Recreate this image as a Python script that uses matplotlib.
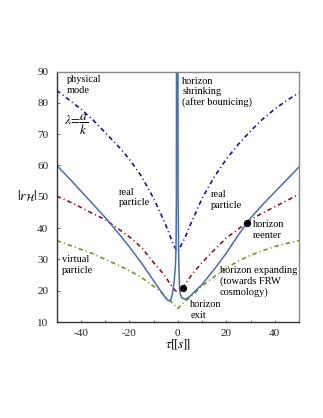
import matplotlib
matplotlib.use("Agg")
import matplotlib.pyplot as plt
from matplotlib.ticker import MultipleLocator

plt.rcParams['font.family'] = ['Liberation Serif', 'DejaVu Serif']
plt.rcParams['mathtext.fontset'] = 'stix'
plt.rcParams['axes.unicode_minus'] = False
plt.rcParams['lines.scale_dashes'] = False

# ---- data ----
tau = [-50, -45, -40, -35, -30, -25, -20, -15, -10, -7, -5, -3, -2, -1, 0,
       1, 2, 3, 5, 7, 10, 15, 20, 25, 30, 35, 40, 45, 50]
physical_mode = [84.0, 81.0, 78.0, 74.5, 70.5, 66.5, 62.0, 56.5, 49.5, 44.5, 41.0, 37.0, 35.0, 33.5, 32.5,
                 34.0, 35.5, 37.0, 40.8, 44.2, 49.5, 56.3, 62.0, 66.8, 71.0, 74.8, 78.0, 80.8, 83.2]
real_particle = [50.2, 48.5, 46.6, 44.6, 42.7, 40.0, 37.2, 33.8, 29.0, 26.3, 24.3, 22.0, 21.0, 20.0, 19.6,
                 20.0, 21.0, 22.0, 24.3, 26.3, 29.0, 33.0, 36.8, 39.7, 42.7, 44.8, 46.8, 48.8, 50.8]
virtual_particle = [36.0, 34.6, 33.2, 31.8, 30.0, 28.3, 26.4, 24.2, 21.4, 19.5, 18.1, 16.6, 15.9, 15.1, 14.3,
                    15.1, 15.9, 16.6, 17.9, 19.2, 21.5, 24.5, 27.2, 29.5, 31.3, 32.8, 34.1, 35.1, 36.0]

tau_h = [-50, -45, -40, -35, -30, -25, -20, -15, -10, -7, -5, -4, -3, -2.3, -1.5, -1.0, -0.75, -0.6, -0.55,
         0.0, 0.1, 0.35, 0.75, 1.5, 3, 5, 7, 10, 15, 20, 25, 30, 35, 40, 45, 50]
horizon = [60.0, 56.0, 51.8, 47.6, 43.4, 38.8, 34.0, 28.8, 23.2, 19.8, 17.6, 16.8, 16.9, 18.8, 23.0, 28.0, 34.0, 50.0, 120.0,
           120.0, 50.0, 30.0, 19.8, 17.8, 17.2, 18.2, 19.8, 22.0, 26.8, 32.0, 37.8, 43.2, 47.5, 51.5, 55.5, 59.5]

dot_tau = [2.0, 28.4]
dot_r = [21.0, 41.7]

W, H = 323, 418
fig = plt.figure(figsize=(W / 100, H / 100), dpi=100)
ax = fig.add_axes([56.7 / W, 1 - 322 / H, (299 - 56.7) / W, (322 - 71.5) / H])

c_navy = '#16168c'
c_red = '#8e1620'
c_green = '#6a9a20'
c_blue = '#4a6ea8'
dd = (3.2, 2.2, 0.8, 2.2)

ax.plot(tau, physical_mode, color=c_navy, lw=1.2, dashes=dd)
ax.plot(tau, real_particle, color=c_red, lw=1.2, dashes=dd)
ax.plot(tau, virtual_particle, color=c_green, lw=1.2, dashes=dd)
ax.plot(tau_h, horizon, color=c_blue, lw=1.1)
ax.plot(dot_tau, dot_r, 'o', color='black', ms=4.2, zorder=5)

ax.set_xlim(-50, 50)
ax.set_ylim(10, 90)
ax.xaxis.set_minor_locator(MultipleLocator(10))
ax.yaxis.set_major_locator(MultipleLocator(10))
ax.tick_params(which='both', direction='in', length=1.8, width=0.6, colors='#555555',
               labelsize=8, labelcolor='#222222')
ax.tick_params(axis='x', pad=5)
ax.tick_params(axis='y', pad=6)
ax.set_xticks([-40, -20, 0, 20, 40])
ax.set_xticklabels(['-40', '-20', '0', '20', '40'])

for s in ['left', 'bottom']:
    ax.spines[s].set_color('#333333')
    ax.spines[s].set_linewidth(1.0)
for s in ['top', 'right']:
    ax.spines[s].set_color('#888888')
    ax.spines[s].set_linewidth(1.0)

fs = 7.5
ls = 1.2
ax.text(-46, 88.8, 'physical\nmode', fontsize=fs, va='top', ha='left', linespacing=ls)
ax.text(-47, 73.0, r'$\lambda\!=\!\dfrac{a}{k}$', fontsize=9.5, va='center', ha='left')
ax.text(-24.5, 52.8, 'real\nparticle', fontsize=fs, va='top', ha='left', linespacing=ls)
ax.text(-47.7, 31.3, 'virtual\nparticle', fontsize=fs, va='top', ha='left', linespacing=ls)
ax.text(1.8, 88.4, 'horizon\nshrinking\n(after bounicing)', fontsize=fs, va='top', ha='left', linespacing=ls)
ax.text(13.5, 52.1, 'real\nparticle', fontsize=fs, va='top', ha='left', linespacing=ls)
ax.text(30.9, 42.5, 'horizon\nreenter', fontsize=fs, va='top', ha='left', linespacing=ls)
ax.text(17.3, 27.8, 'horizon expanding\n(towards FRW\ncosmology)', fontsize=fs, va='top', ha='left', linespacing=ls)
ax.text(5.2, 16.9, 'horizon\nexit', fontsize=fs, va='top', ha='left', linespacing=ls)

fig.text(27.5 / W, 1 - 196 / H, r'$|r_{\mathcal{H}}|$', fontsize=10, ha='center', va='center')
fig.text(178 / W, 1 - 345 / H, r'$\tau[\![s]\!]$', fontsize=9.5, ha='center', va='center')

fig.savefig('out.png', dpi=100)
